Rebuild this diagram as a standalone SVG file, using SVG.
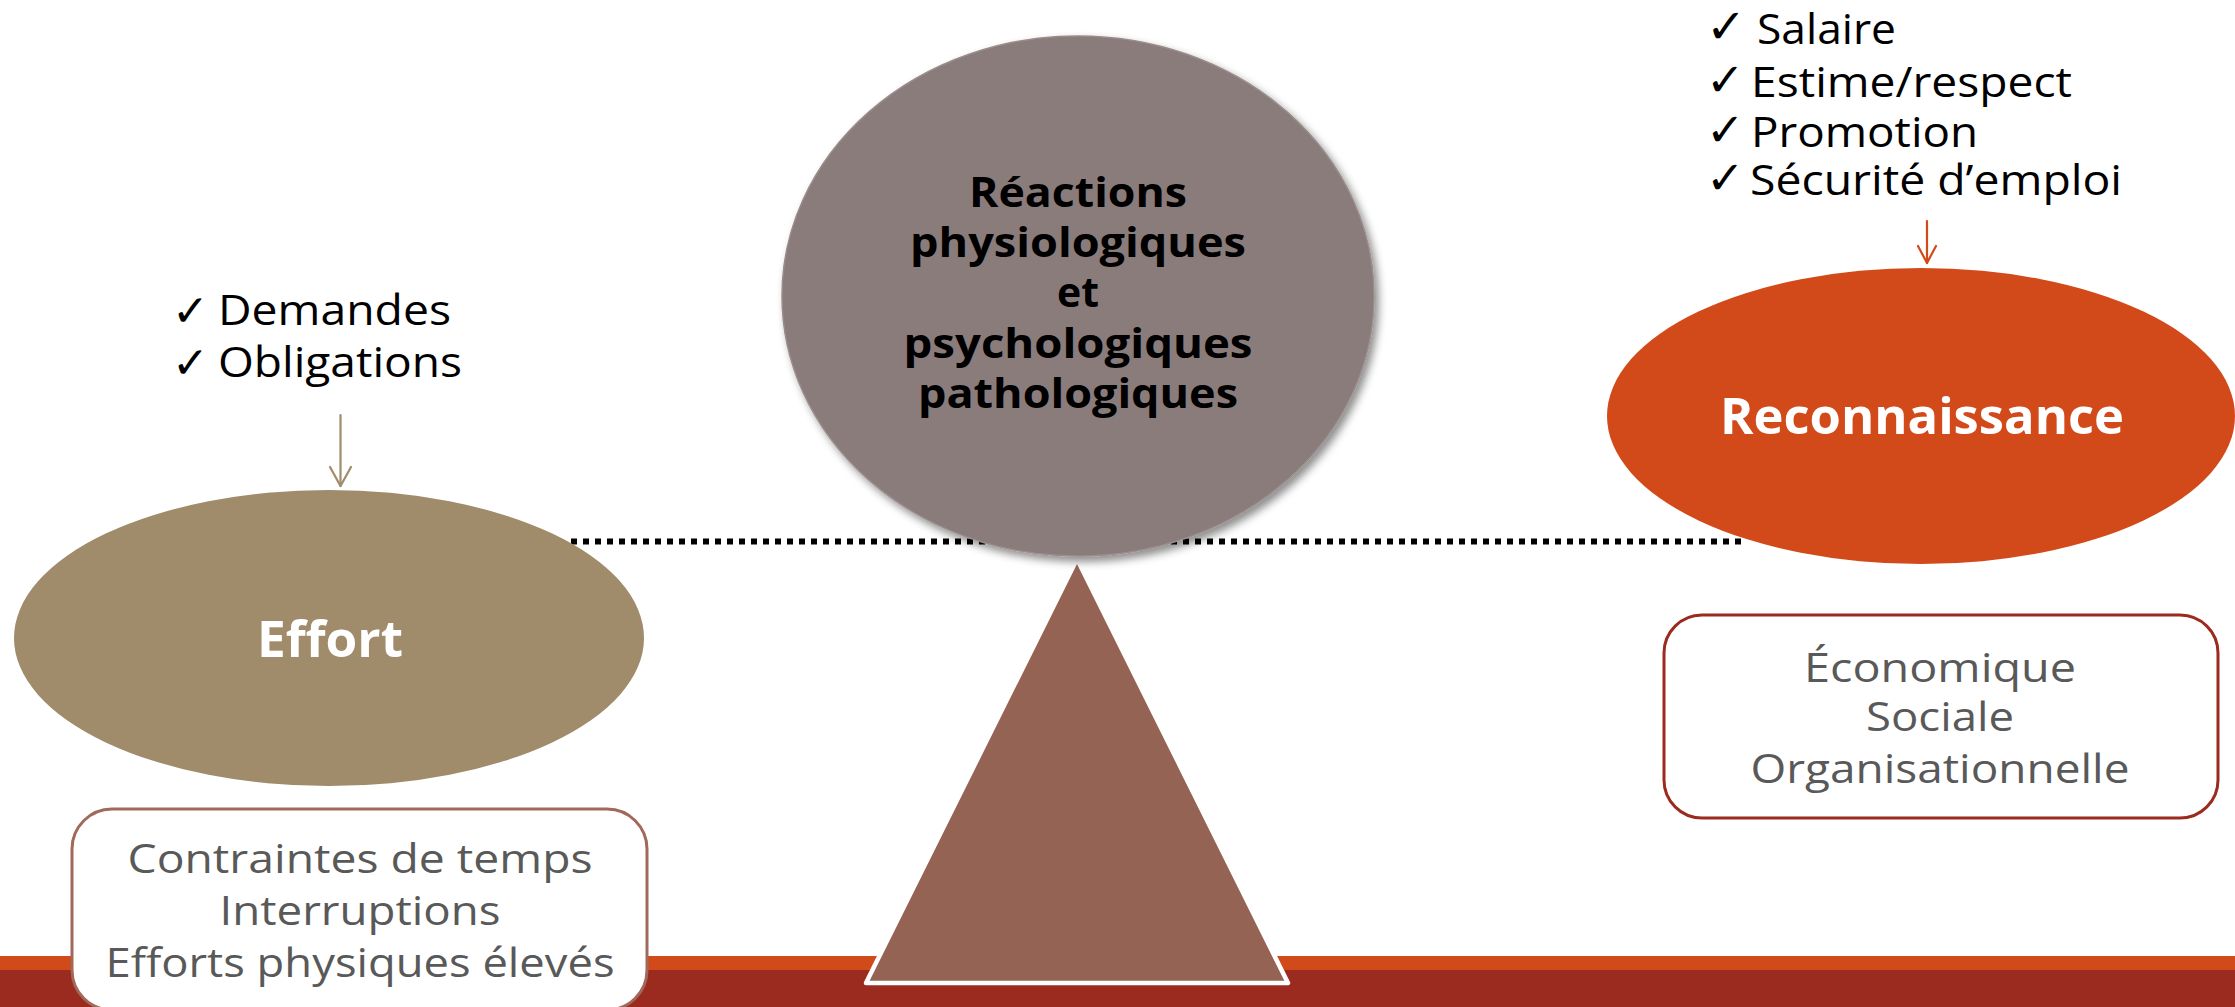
<svg xmlns="http://www.w3.org/2000/svg" width="2235" height="1007" viewBox="0 0 2235 1007">
  <defs>
    <filter id="softShadow" x="-10%" y="-10%" width="125%" height="125%">
      <feDropShadow dx="4" dy="5" stdDeviation="4" flood-color="#000" flood-opacity="0.45"/>
    </filter>
    <style>
      .t { font-family: "Open Sans", "Liberation Sans", sans-serif; }
      .reg { font-weight: 400; }
      .bold { font-weight: 700; }
      .list { font-size: 42px; fill: #000; }
      .chk { font-family: "DejaVu Sans", sans-serif; fill: #000; }
      .boxtxt { font-size: 40px; fill: #595959; text-anchor: middle; }
      .title { font-size: 51px; fill: #fff; text-anchor: middle; }
      .core { font-size: 41px; fill: #000; text-anchor: middle; }
      .box { fill: #fff; stroke-width: 3; }
    </style>
  </defs>

  <rect width="2235" height="1007" fill="#fff"/>

  <!-- floor band -->
  <g id="floor">
    <rect x="0" y="956" width="2235" height="15" fill="#D14A1A"/>
    <rect x="0" y="970" width="2235" height="37" fill="#9C2B1F"/>
  </g>

  <!-- connectors: balance beam and the two input arrows -->
  <g id="connectors" fill="none">
    <line x1="571" y1="541.5" x2="1741" y2="541.5" stroke="#000" stroke-width="6" stroke-dasharray="6 6"/>
    <g stroke="#A08B6B" stroke-width="2.2" stroke-linecap="round" stroke-linejoin="round">
      <line x1="340.5" y1="415" x2="340.5" y2="486"/>
      <polyline points="330,467 340.5,486 351,467"/>
    </g>
    <g stroke="#D2491A" stroke-width="2.2" stroke-linecap="round" stroke-linejoin="round">
      <line x1="1927" y1="221" x2="1927" y2="263"/>
      <polyline points="1918,246 1927,263 1936,246"/>
    </g>
  </g>

  <!-- fulcrum -->
  <g id="fulcrum">
    <polygon points="1077,559 1288,983 866,983" fill="#956353" stroke="#fff" stroke-width="4.5" stroke-linejoin="round"/>
  </g>

  <!-- effort side -->
  <g id="effort">
    <ellipse cx="329" cy="638" rx="315" ry="148" fill="#A08B6B"/>
    <text class="t bold title" x="330" y="657" textLength="146" lengthAdjust="spacingAndGlyphs">Effort</text>
  </g>

  <g id="effort-inputs">
    <text class="chk" x="172" y="326" font-size="44">✓</text>
    <text class="chk" x="172" y="378" font-size="44">✓</text>
    <text class="t reg list" x="218" y="325" textLength="233" lengthAdjust="spacingAndGlyphs">Demandes</text>
    <text class="t reg list" x="218" y="377" textLength="244" lengthAdjust="spacingAndGlyphs">Obligations</text>
  </g>

  <g id="effort-sources">
    <rect class="box" x="72" y="809" width="575" height="201" rx="40" ry="40" stroke="#A0695B"/>
    <text class="t reg boxtxt" x="360" y="873" textLength="465" lengthAdjust="spacingAndGlyphs">Contraintes de temps</text>
    <text class="t reg boxtxt" x="360" y="925" textLength="281" lengthAdjust="spacingAndGlyphs">Interruptions</text>
    <text class="t reg boxtxt" x="360" y="977" textLength="509" lengthAdjust="spacingAndGlyphs">Efforts physiques élevés</text>
  </g>

  <!-- reward side -->
  <g id="reconnaissance">
    <ellipse cx="1921" cy="416" rx="314" ry="148" fill="#D2491A"/>
    <text class="t bold title" x="1922" y="434" textLength="404" lengthAdjust="spacingAndGlyphs">Reconnaissance</text>
  </g>

  <g id="reconnaissance-inputs">
    <text class="chk" x="1706" y="43" font-size="48" font-weight="bold">✓</text>
    <text class="chk" x="1706" y="96" font-size="46">✓</text>
    <text class="chk" x="1706" y="146" font-size="46">✓</text>
    <text class="chk" x="1706" y="194" font-size="46">✓</text>
    <text class="t reg list" x="1757" y="44" textLength="139" lengthAdjust="spacingAndGlyphs">Salaire</text>
    <text class="t reg list" x="1751" y="97" textLength="321" lengthAdjust="spacingAndGlyphs">Estime/respect</text>
    <text class="t reg list" x="1751" y="147" textLength="227" lengthAdjust="spacingAndGlyphs">Promotion</text>
    <text class="t reg list" x="1750" y="195" textLength="372" lengthAdjust="spacingAndGlyphs">Sécurité d’emploi</text>
  </g>

  <g id="reconnaissance-sources">
    <rect class="box" x="1664" y="615" width="554" height="203" rx="38" ry="38" stroke="#9C2B1F"/>
    <text class="t reg boxtxt" x="1940" y="682" textLength="272" lengthAdjust="spacingAndGlyphs">Économique</text>
    <text class="t reg boxtxt" x="1940" y="731" textLength="148" lengthAdjust="spacingAndGlyphs">Sociale</text>
    <text class="t reg boxtxt" x="1940" y="783" textLength="379" lengthAdjust="spacingAndGlyphs">Organisationnelle</text>
  </g>

  <!-- outcome on top of the fulcrum -->
  <g id="reactions">
    <ellipse cx="1078" cy="296" rx="296" ry="260" fill="#8B7B7B" stroke="#9A8C8B" stroke-width="1.5" filter="url(#softShadow)"/>
    <text class="t bold core" x="1078" y="207" textLength="218" lengthAdjust="spacingAndGlyphs">Réactions</text>
    <text class="t bold core" x="1078" y="257" textLength="336" lengthAdjust="spacingAndGlyphs">physiologiques</text>
    <text class="t bold core" x="1078" y="307" textLength="42" lengthAdjust="spacingAndGlyphs">et</text>
    <text class="t bold core" x="1078" y="358" textLength="349" lengthAdjust="spacingAndGlyphs">psychologiques</text>
    <text class="t bold core" x="1078" y="408" textLength="320" lengthAdjust="spacingAndGlyphs">pathologiques</text>
  </g>
</svg>
